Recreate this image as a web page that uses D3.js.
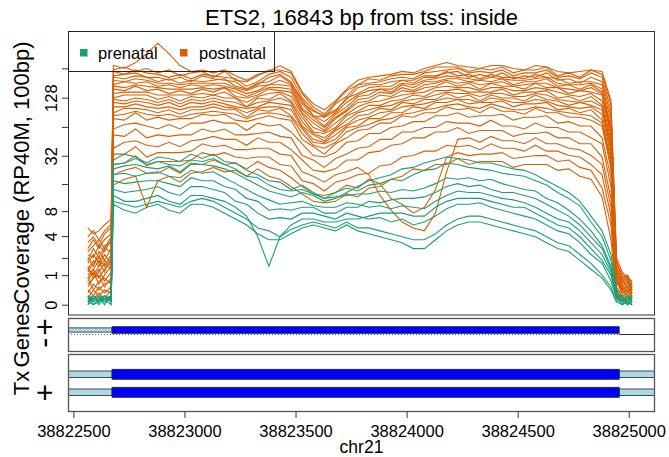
<!DOCTYPE html>
<html><head><meta charset="utf-8">
<script src="https://cdn.jsdelivr.net/npm/d3@7"></script>
<style>body{margin:0;background:#fff}svg{display:block}text{font-family:"Liberation Sans",Arial,Helvetica,sans-serif;fill:#000}</style>
</head><body><svg id="c" width="669" height="457"></svg>
<script>
const chartTitle = "ETS2, 16843 bp from tss: inside";
const yTitle = "Coverage (RP40M, 100bp)";
const xTitle = "chr21";
// genomic positions (bp) of coverage samples
const positions = [38822565,38822590,38822615,38822640,38822670,
38822680,38822730,38822780,38822830,38822880,38822930,38822980,38823030,38823080,38823130,
38823180,38823230,38823280,38823330,38823380,38823430,38823480,38823530,38823580,38823630,
38823680,38823730,38823780,38823830,38823880,38823930,38823980,38824030,38824080,38824130,
38824180,38824230,38824280,38824330,38824380,38824430,38824480,38824530,38824580,38824630,
38824680,38824730,38824780,38824830,38824880,38824920,38824945,
38824970,38824995,38825015];
// values are log2(coverage + 1)
const prenatal = [
[0.3,0.1,0.3,0.2,0.3, 4.9,5.1,5.0,4.8,5.0,4.95,4.85,5.1,4.95,5.1, 4.85,4.8,4.55,4.4,4.2,4.15,3.9,4.05,3.8,3.6, 3.8,3.95,3.85,4.05,4.1,4.25,4.2,4.4,4.55,4.6, 4.8,4.75,4.65,4.6,4.55,4.45,4.4,4.35,4.2,4.05, 3.8,3.6,3.35,2.8,2.3,1.5,0.4, 0.2,0.3,0.1],
[0.2,0.3,0.1,0.3,0.2, 4.75,4.8,4.95,4.75,4.85,4.75,4.7,4.9,4.85,4.95, 4.75,4.6,4.35,4.3,4.05,3.9,3.85,3.9,3.75,3.6, 3.65,3.7,3.75,3.75,3.85,3.8,3.9,3.85,3.95,4.1, 4.3,4.25,4.3,4.2,4.25,4.1,4.0,3.9,3.85,3.6, 3.45,3.2,2.9,2.5,2.0,1.3,0.3, 0.3,0.1,0.2],
[0.1,0.2,0.3,0.1,0.3, 4.6,4.7,4.75,4.65,4.6,4.7,4.5,4.8,4.75,4.7, 4.6,4.45,4.25,4.05,3.85,3.75,3.65,3.8,3.7,3.5, 3.6,3.8,4.0,4.2,4.3,4.4,4.6,4.65,4.8,4.9, 5.0,4.95,4.9,4.8,4.8,4.7,4.6,4.55,4.4,4.2, 4.0,3.8,3.5,3.0,2.5,1.7,0.5, 0.1,0.2,0.3],
[0.3,0,0.2,0.3,0.1, 4.4,4.45,4.35,4.45,4.5,4.35,4.3,4.55,4.45,4.5, 4.3,4.1,3.9,3.7,3.55,3.4,3.45,3.5,3.35,3.3, 3.3,3.45,3.4,3.3,3.35,3.25,3.35,3.3,3.25,3.5, 3.7,3.85,3.8,3.8,3.7,3.6,3.55,3.45,3.3,3.1, 2.9,2.8,2.5,2.1,1.7,1.1,0.3, 0.2,0,0.1],
[0,0.3,0,0.2,0.2, 4.2,4.1,4.15,4.2,4.2,4.1,4.0,4.3,4.2,4.2, 4.0,3.9,3.6,3.5,3.2,3.25,3.2,3.3,3.3,3.1, 3.1,3.3,3.3,3.5,3.45,3.55,3.6,3.6,3.65,3.8, 4.0,4.1,4.0,4.05,3.9,3.8,3.8,3.7,3.6,3.4, 3.2,3.0,2.7,2.3,1.9,1.2,0.3, 0,0.3,0.2],
[0.2,0.1,0.3,0,0.3, 3.9,3.8,3.85,3.9,4.0,3.8,3.7,4.0,4.0,3.9, 3.8,3.5,3.4,3.1,2.9,2.95,2.9,3.1,3.1,3.0, 2.9,3.1,3.0,2.9,2.95,2.8,2.9,2.7,2.8,3.0, 3.25,3.4,3.4,3.45,3.3,3.2,3.1,3.0,2.9,2.7, 2.5,2.4,2.1,1.7,1.4,0.8,0.2, 0.3,0.1,0],
[0.1,0.3,0.1,0.2,0, 3.7,3.5,3.5,3.6,3.7,3.5,3.4,3.7,3.7,3.6, 3.5,3.3,3.0,2.3,1.3,2.3,2.7,2.9,2.9,2.8, 2.8,2.9,2.9,3.0,3.1,3.1,3.1,3.0,3.0,3.3, 3.5,3.6,3.6,3.6,3.5,3.4,3.3,3.3,3.1,2.9, 2.7,2.6,2.3,1.9,1.5,1.0,0.2, 0.1,0.2,0.1],
[0,0.2,0.2,0.1,0.2, 3.5,3.4,3.3,3.4,3.5,3.4,3.3,3.5,3.6,3.5, 3.3,3.1,2.9,2.6,2.5,2.3,2.55,2.7,2.8,2.7, 2.6,2.8,2.6,2.6,2.5,2.4,2.3,2.2,2.2,2.4, 2.7,2.9,3.0,3.0,2.9,2.8,2.7,2.6,2.5,2.3, 2.1,2.0,1.7,1.4,1.0,0.6,0.1, 0.2,0,0.3],
[0.1,0,0.1,0.3,0.1, 3.4,3.2,3.1,3.3,3.4,3.2,3.1,3.4,3.4,3.3, 3.1,2.9,2.7,2.4,2.2,2.2,2.4,2.6,2.7,2.6, 2.5,2.7,2.5,2.4,2.3,2.2,2.1,1.9,1.9,2.2, 2.5,2.7,2.8,2.8,2.7,2.6,2.5,2.4,2.3,2.1, 1.9,1.8,1.5,1.2,0.9,0.5,0.1, 0,0.1,0]
];
const postnatal = [
[2.6,2.4,2.5,2.7,2.9, 8.1,8.0,8.2,8.5,8.85,8.5,8.1,7.9,7.95,7.85, 7.95,7.75,7.6,7.8,7.9,8.1,7.9,7.2,6.8,6.6, 6.9,7.3,7.6,7.7,7.75,7.8,7.9,7.85,8.0,8.1, 8.2,8.1,8.05,8.0,8.1,8.1,8.0,7.95,8.1,8.05, 7.9,7.85,7.9,7.95,7.9,6.9,1.6, 1.1,0.9,0.8],
[2.3,2.5,2.2,2.5,2.7, 7.95,8.05,7.9,8.0,7.85,7.95,7.75,7.85,7.9,7.7, 7.9,7.6,7.55,7.75,7.95,7.95,7.85,7.15,6.7,6.45, 6.85,7.25,7.45,7.65,7.6,7.75,7.8,7.8,7.9,8.05, 8.05,8.05,7.9,8.0,7.95,8.05,7.85,7.95,7.95,8.05, 7.75,7.85,7.7,7.95,7.8,6.8,1.5, 0.9,1.0,0.7],
[2.1,2.3,2.0,2.4,2.6, 7.9,7.8,7.95,7.85,7.8,7.7,7.8,7.65,7.8,7.75, 7.7,7.65,7.4,7.55,7.8,7.9,7.7,7.0,6.6,6.35, 6.8,7.05,7.45,7.5,7.55,7.65,7.7,7.65,7.85,7.9, 7.95,8.0,7.85,7.9,7.85,7.95,7.75,7.85,7.85,7.95, 7.7,7.75,7.65,7.85,7.7,6.6,1.4, 1.0,0.7,0.5],
[1.9,2.2,1.9,2.2,2.4, 7.75,7.8,7.85,7.7,7.7,7.6,7.7,7.55,7.75,7.65, 7.6,7.55,7.3,7.45,7.7,7.8,7.55,6.85,6.55,6.4, 6.6,6.95,7.35,7.45,7.45,7.55,7.6,7.6,7.75,7.75, 7.85,7.9,7.7,7.8,7.7,7.85,7.65,7.75,7.7,7.85, 7.6,7.65,7.5,7.7,7.55,6.4,1.35, 1.1,0.8,0.6],
[1.8,2.0,2.2,1.9,2.3, 7.7,7.65,7.75,7.7,7.55,7.65,7.5,7.6,7.55,7.6, 7.65,7.4,7.3,7.5,7.55,7.75,7.5,6.95,6.4,6.35, 6.55,7.0,7.15,7.35,7.4,7.4,7.6,7.5,7.7,7.7, 7.9,7.75,7.8,7.65,7.8,7.7,7.7,7.65,7.8,7.7, 7.65,7.5,7.55,7.55,7.45,6.2,1.3, 0.8,1.0,0.6],
[1.7,1.6,2.0,1.8,2.2, 7.6,7.55,7.65,7.6,7.5,7.5,7.45,7.5,7.5,7.5, 7.5,7.35,7.25,7.4,7.45,7.6,7.45,6.8,6.4,6.2, 6.5,6.85,7.1,7.25,7.3,7.3,7.5,7.45,7.6,7.65, 7.75,7.7,7.65,7.6,7.7,7.65,7.6,7.6,7.65,7.7, 7.5,7.45,7.45,7.5,7.3,6.0,1.25, 0.7,0.9,0.5],
[1.5,1.9,1.6,2.0,2.1, 7.45,7.55,7.5,7.55,7.4,7.45,7.35,7.45,7.4,7.45, 7.4,7.3,7.15,7.25,7.45,7.45,7.4,6.65,6.35,6.05, 6.45,6.7,7.05,7.1,7.3,7.2,7.45,7.35,7.55,7.55, 7.65,7.65,7.55,7.6,7.55,7.65,7.45,7.55,7.55,7.65, 7.4,7.45,7.3,7.45,7.2,5.9,1.2, 0.9,0.5,0.7],
[1.4,1.7,1.4,1.9,1.8, 7.4,7.35,7.45,7.4,7.35,7.3,7.3,7.3,7.35,7.3, 7.35,7.2,7.05,7.2,7.35,7.35,7.3,6.6,6.25,6.0, 6.35,6.6,6.95,7.0,7.2,7.15,7.35,7.25,7.45,7.5, 7.6,7.5,7.55,7.45,7.5,7.55,7.4,7.45,7.5,7.5, 7.35,7.3,7.25,7.35,7.15,5.8,1.15, 0.8,0.6,0.4],
[1.6,1.3,1.8,1.5,1.9, 7.3,7.25,7.4,7.25,7.3,7.15,7.25,7.15,7.3,7.2, 7.35,7.05,7.0,7.1,7.3,7.25,7.2,6.5,6.15,5.9, 6.3,6.55,6.85,6.9,7.1,7.05,7.25,7.2,7.35,7.4, 7.55,7.4,7.5,7.3,7.5,7.4,7.4,7.3,7.5,7.35, 7.35,7.15,7.25,7.2,7.1,5.7,1.1, 0.6,0.8,0.4],
[1.1,1.4,1.6,1.3,1.7, 7.15,7.2,7.2,7.2,7.1,7.1,7.1,7.1,7.15,7.1, 7.2,7.0,6.85,7.05,7.15,7.2,7.05,6.45,6.0,5.85, 6.15,6.45,6.7,6.85,6.9,7.0,7.1,7.15,7.2,7.35, 7.4,7.35,7.35,7.25,7.35,7.35,7.25,7.25,7.35,7.3, 7.2,7.1,7.05,7.15,6.9,5.55,1.05, 0.5,0.7,0.5],
[1.2,1.5,1.3,1.7,1.4, 7.0,7.1,7.1,7.1,6.95,7.05,6.9,7.05,7.0,7.1, 7.0,7.0,6.7,7.0,6.95,7.15,6.9,6.35,5.85,5.8, 6.0,6.4,6.55,6.75,6.75,6.9,6.95,7.1,7.05,7.25, 7.25,7.3,7.2,7.2,7.2,7.3,7.1,7.2,7.2,7.25, 7.0,7.05,6.9,7.05,6.75,5.4,1.0, 0.7,0.4,0.6],
[1.2,1.0,1.3,1.5,1.3, 6.95,6.9,7.0,6.95,6.85,6.95,6.8,6.95,6.9,7.0, 6.9,6.85,6.7,6.85,6.9,7.0,6.85,6.2,5.8,5.65, 5.95,6.25,6.5,6.6,6.7,6.75,6.9,6.95,7.0,7.1, 7.2,7.15,7.15,7.05,7.15,7.15,7.05,7.05,7.15,7.1, 6.95,6.9,6.85,6.9,6.7,5.3,0.95, 0.6,0.3,0.4],
[1.0,1.2,1.5,1.1,1.6, 6.85,6.8,6.9,6.85,6.75,6.85,6.7,6.85,6.8,6.9, 6.8,6.7,6.65,6.7,6.85,6.8,6.75,6.05,5.75,5.55, 5.9,6.1,6.4,6.45,6.65,6.6,6.85,6.8,6.95,6.95, 7.15,7.0,7.1,6.9,7.1,7.0,7.0,6.9,7.1,6.95, 6.9,6.75,6.85,6.75,6.6,5.2,0.9, 0.5,0.6,0.3],
[0.9,1.2,0.9,1.2,1.5, 6.7,6.7,6.8,6.7,6.65,6.7,6.6,6.7,6.7,6.8, 6.7,6.65,6.5,6.65,6.7,6.7,6.6,6.0,5.6,5.5, 5.75,6.05,6.25,6.35,6.5,6.55,6.7,6.75,6.8,6.9, 7.0,6.95,6.95,6.85,7.0,6.95,6.85,6.85,6.95,6.9, 6.75,6.7,6.65,6.7,6.45,5.05,0.85, 0.4,0.5,0.2],
[1.3,0.9,1.1,1.4,1.2, 6.5,6.65,6.65,6.6,6.5,6.6,6.45,6.6,6.6,6.7, 6.6,6.6,6.35,6.6,6.55,6.65,6.4,5.95,5.5,5.45, 5.6,6.0,6.05,6.3,6.3,6.5,6.5,6.7,6.65,6.85, 6.85,6.95,6.8,6.85,6.85,6.9,6.7,6.8,6.8,6.85, 6.6,6.65,6.5,6.6,6.25,4.9,0.8, 0.4,0.5,0.5],
[0.7,0.9,1.2,0.8,1.1, 6.4,6.45,6.55,6.45,6.4,6.45,6.35,6.45,6.5,6.55, 6.5,6.45,6.3,6.45,6.5,6.45,6.35,5.8,5.4,5.3, 5.5,5.85,6.0,6.1,6.25,6.3,6.45,6.5,6.6,6.65, 6.75,6.8,6.7,6.65,6.8,6.7,6.6,6.6,6.7,6.65, 6.55,6.5,6.45,6.4,6.15,4.75,0.75, 0.5,0.3,0.3],
[0.8,1.1,0.7,1.0,1.3, 6.3,6.25,6.5,6.25,6.35,6.25,6.3,6.3,6.45,6.4, 6.45,6.25,6.2,6.3,6.4,6.3,6.25,5.6,5.35,5.1, 5.45,5.65,5.9,5.95,6.15,6.15,6.4,6.35,6.5,6.5, 6.7,6.6,6.65,6.5,6.7,6.55,6.55,6.45,6.65,6.5, 6.5,6.35,6.35,6.25,6.05,4.6,0.7, 0.6,0.3,0.2],
[0.6,0.9,1.0,0.6,0.9, 5.95,6.1,6.15,6.05,5.95,6.1,5.95,6.15,6.15,6.25, 6.15,6.15,5.9,6.15,6.05,6.1,5.85,5.45,5.05,5.0, 5.15,5.5,5.55,5.8,5.8,6.0,6.05,6.2,6.2,6.4, 6.4,6.5,6.35,6.4,6.4,6.45,6.25,6.35,6.35,6.4, 6.15,6.2,6.05,6.05,5.65,4.3,0.6, 0.3,0.4,0.4],
[0.9,0.5,0.8,0.9,0.7, 5.75,5.7,5.95,5.65,5.75,5.7,5.75,5.75,5.95,5.85, 5.95,5.75,5.75,5.8,5.85,5.7,5.65,5.05,4.9,4.65, 4.95,5.1,5.3,5.35,5.6,5.6,5.85,5.85,6.0,6.0, 6.2,6.15,6.15,6.05,6.25,6.05,6.05,5.95,6.15,6.0, 6.0,5.85,5.85,5.65,5.45,4.0,0.5, 0.4,0.2,0.3],
[0.4,0.7,0.5,0.7,0.8, 5.3,5.5,5.55,5.4,5.35,5.5,5.35,5.55,5.6,5.7, 5.6,5.6,5.4,5.65,5.5,5.5,5.25,4.9,4.55,4.5, 4.6,4.9,4.9,5.15,5.2,5.4,5.45,5.65,5.65,5.85, 5.85,6.0,5.8,5.9,5.9,5.9,5.7,5.8,5.8,5.85, 5.65,5.65,5.45,5.45,5.0,3.6,0.5, 0.2,0.3,0.1],
[0.5,0.3,0.6,0.4,0.6, 5.1,5.1,5.35,5.0,5.15,5.15,5.15,5.2,5.45,5.35, 5.4,5.25,5.25,5.3,5.3,5.1,5.05,4.5,4.35,4.15, 4.4,4.5,4.65,4.4,3.7,3.2,2.8,2.6,2.5,3.1, 4.5,5.6,5.65,5.5,5.7,5.55,5.55,5.45,5.65,5.45, 5.45,5.3,5.25,5.05,4.75,3.3,0.4, 0.3,0.1,0.2],
[0.2,0.5,0.3,0.5,0.4, 4.75,4.8,5.05,4.7,4.85,4.85,4.85,4.9,5.15,5.05, 5.15,5.0,4.95,5.0,5.0,4.75,4.7,4.2,4.1,3.85, 4.15,4.25,4.4,4.45,4.7,4.75,5.0,5.05,5.2,5.2, 5.4,5.35,5.4,5.25,5.45,5.3,5.3,5.2,5.4,5.2, 5.2,5.05,5.0,4.75,4.4,3.0,0.35, 0.1,0.2,0.1],
[0.3,0.2,0.4,0.2,0.5, 4.4,4.55,4.65,4.45,4.45,4.65,4.45,4.75,4.75,4.9, 4.75,4.8,4.6,4.85,4.65,4.55,4.3,4.0,3.75,3.7, 3.8,4.05,3.95,4.25,4.1,3.6,3.4,3.1,3.3,3.9, 5.0,5.15,5.05,5.1,5.1,5.15,4.95,5.0,5.05,5.05, 4.85,4.9,4.65,4.55,3.95,2.7,0.3, 0.2,0.1,0],
[0.1,0.3,0.1,0.3,0.2, 4.05,4.25,4.35,3.3,4.2,4.35,4.15,4.45,4.5,4.65, 4.5,4.55,4.35,4.6,4.35,4.25,4.0,3.75,3.5,3.45, 3.5,3.75,3.65,3.95,4.0,4.25,4.35,4.6,4.55,4.75, 4.75,4.95,4.75,4.85,4.85,4.85,4.65,4.75,4.75,4.75, 4.55,4.6,4.35,4.25,3.65,2.2,0.3, 0,0.1,0]
];
const groupNames = ["prenatal", "postnatal"];
const groupColors = ["#1B9E77", "#D95F02"];
const yTickValues = [0, 1, 2, 4, 8, 16, 32, 64, 128, 256];
const yTickLabels = ["0", "1", "", "4", "8", "", "32", "", "128", ""];
const xTickValues = [38822500, 38823000, 38823500, 38824000, 38824500, 38825000];
// gene model: [start, end, kind]
const geneParts = [[38822300, 38822674, "utr"], [38822674, 38824957, "cds"]];
const txParts = [
  [[38822300, 38822674, "utr"], [38824957, 38825300, "utr"], [38822674, 38824957, "cds"]],
  [[38822300, 38822674, "utr"], [38824957, 38825300, "utr"], [38822674, 38824957, "cds"]]
];

const svg = d3.select("#c");
const L = 68.5, R = 654.5, T = 31.5, B = 315;
const x = d3.scaleLinear().domain([38822478, 38825116]).range([L, R]);
const y = d3.scaleLinear().domain([-0.349, 9.252]).range([B, T]);

const defs = svg.append("defs");
defs.append("clipPath").attr("id", "clipMain").append("rect").attr("x", L).attr("y", T).attr("width", R - L).attr("height", B - T);
defs.append("clipPath").attr("id", "clipGene").append("rect").attr("x", L).attr("y", 318.5).attr("width", R - L).attr("height", 33);
defs.append("clipPath").attr("id", "clipTx").append("rect").attr("x", L).attr("y", 354.5).attr("width", R - L).attr("height", 57);

svg.append("text").attr("x", (L + R) / 2).attr("y", 25).attr("text-anchor", "middle").attr("font-size", 22).text(chartTitle);

// coverage lines
const line = d3.line().x((d, i) => x(positions[i])).y(d => y(d));
const gLines = svg.append("g").attr("clip-path", "url(#clipMain)");
[[postnatal, groupColors[1]], [prenatal, groupColors[0]]].forEach(([arr, col]) => {
  gLines.selectAll(null).data(arr).enter().append("path")
    .attr("d", line).attr("fill", "none").attr("stroke", col).attr("stroke-width", 1.1);
});

svg.append("rect").attr("x", L).attr("y", T).attr("width", R - L).attr("height", B - T).attr("fill", "none").attr("stroke", "#333").attr("stroke-width", 1);

// y axis
const yAxis = d3.axisLeft(y)
  .tickValues(yTickValues.map(t => Math.log2(t + 1)))
  .tickFormat((d, i) => yTickLabels[i])
  .tickSize(6.5);
const gy = svg.append("g").attr("transform", `translate(${L},0)`).call(yAxis);
gy.select(".domain").remove();
gy.selectAll(".tick line").attr("stroke", "#333");
gy.selectAll(".tick text").attr("transform", "rotate(-90)").attr("x", 0).attr("y", -12).attr("dy", 0)
  .attr("text-anchor", "middle").attr("font-size", 16.5).attr("font-family", null).attr("fill", "#000");

svg.append("text").attr("transform", "translate(28.5,173) rotate(-90)").attr("text-anchor", "middle").attr("font-size", 22).text(yTitle);
svg.append("text").attr("transform", "translate(28.5,335) rotate(-90)").attr("text-anchor", "middle").attr("font-size", 22).text("Genes");
svg.append("text").attr("transform", "translate(28.5,383) rotate(-90)").attr("text-anchor", "middle").attr("font-size", 22).text("Tx");

// strand labels
const strandLabels = [["+", 55.2, 327], ["-", 54, 342.7], ["+", 55.2, 392.8]];
strandLabels.forEach(([s, bx, cy]) => {
  svg.append("text").attr("transform", `translate(${bx},${cy}) rotate(-90)`).attr("text-anchor", "middle").attr("font-size", 30).text(s);
});

// legend
svg.append("rect").attr("x", L).attr("y", T).attr("width", 206).attr("height", 40).attr("fill", "none").attr("stroke", "#222").attr("stroke-width", 1);
const legPos = [[80, 98], [180, 199]];
groupNames.forEach((n, i) => {
  svg.append("rect").attr("x", legPos[i][0]).attr("y", 49).attr("width", 7.5).attr("height", 7.5).attr("fill", groupColors[i]);
  svg.append("text").attr("x", legPos[i][1]).attr("y", 58.5).attr("font-size", 16.5).text(n);
});

// genes panel
const gG = svg.append("g").attr("clip-path", "url(#clipGene)");
const geneY = 330;
gG.append("line").attr("x1", 71).attr("x2", x(38824957)).attr("y1", 334.5).attr("y2", 334.5).attr("stroke", "#666").attr("stroke-dasharray", "1,2");
gG.append("line").attr("x1", x(38824957)).attr("x2", R).attr("y1", 334.5).attr("y2", 334.5).attr("stroke", "#333");
geneParts.forEach(([s, e, k]) => {
  const h = k === "cds" ? 6.6 : 4.2;
  gG.append("rect").attr("x", x(s)).attr("y", geneY - h / 2).attr("width", x(e) - x(s)).attr("height", h)
    .attr("fill", k === "cds" ? "#0000FF" : "#ADD8E6").attr("stroke", "#222").attr("stroke-width", 0.8);
});
svg.append("rect").attr("x", L).attr("y", 318.5).attr("width", R - L).attr("height", 33).attr("fill", "none").attr("stroke", "#555").attr("stroke-width", 1.3);

// tx panel
const gT = svg.append("g").attr("clip-path", "url(#clipTx)");
const txY = [374.3, 392.3];
txParts.forEach((parts, r) => {
  parts.forEach(([s, e, k]) => {
    const h = k === "cds" ? 10 : 6.6;
    gT.append("rect").attr("x", x(s)).attr("y", txY[r] - h / 2).attr("width", x(e) - x(s)).attr("height", h)
      .attr("fill", k === "cds" ? "#0000FF" : "#ADD8E6").attr("stroke", "#222").attr("stroke-width", 0.8);
  });
});
svg.append("rect").attr("x", L).attr("y", 354.5).attr("width", R - L).attr("height", 57).attr("fill", "none").attr("stroke", "#555").attr("stroke-width", 1.3);

// x axis
const xAxis = d3.axisBottom(x).tickValues(xTickValues).tickFormat(d3.format("d")).tickSize(6.5);
const gx = svg.append("g").attr("transform", "translate(0,411.5)").call(xAxis);
gx.select(".domain").remove();
gx.selectAll(".tick line").attr("stroke", "#333");
gx.selectAll(".tick text").attr("y", 25.5).attr("dy", 0).attr("font-size", 16.5).attr("font-family", null).attr("fill", "#000");
svg.append("text").attr("x", (L + R) / 2).attr("y", 452.5).attr("text-anchor", "middle").attr("font-size", 17.5).text(xTitle);
</script></body></html>
